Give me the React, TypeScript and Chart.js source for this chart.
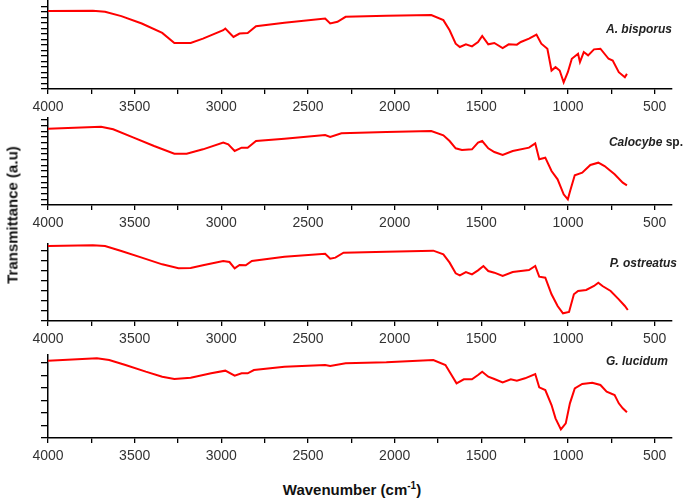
import React, { useEffect, useRef } from "react";
import { Chart, registerables } from "chart.js";

Chart.register(...registerables);

const FONT = "'Liberation Sans', Arial, Helvetica, sans-serif";

// Wavenumber axis ticks (cm-1)
const xTickValues = [4000, 3750, 3500, 3250, 3000, 2750, 2500, 2250, 2000, 1750, 1500, 1250, 1000, 750, 500];
const xLabelValues = [4000, 3500, 3000, 2500, 2000, 1500, 1000, 500];

// A. bisporus
const bisporusWn = [4000, 3741, 3671, 3577, 3459, 3341, 3271, 3177, 3106, 2989, 2977, 2930, 2895, 2848, 2800, 2636, 2401, 2372, 2330, 2283, 2048, 1789, 1719, 1683, 1648, 1624, 1589, 1554, 1519, 1495, 1460, 1425, 1377, 1342, 1295, 1272, 1225, 1182, 1154, 1119, 1095, 1072, 1048, 1025, 1001, 978, 942, 931, 909, 884, 850, 813, 766, 742, 707, 672, 660];
const bisporusT = [232, 233, 230, 217, 195, 167, 137, 137, 150, 175, 180, 155, 165, 167, 187, 197, 210, 195, 200, 215, 218, 220, 205, 175, 135, 125, 133, 127, 140, 158, 133, 137, 122, 133, 132, 140, 150, 162, 135, 120, 55, 65, 55, 20, 50, 90, 105, 80, 110, 100, 118, 120, 90, 85, 50, 35, 45];

// Calocybe sp.
const calocybeWn = [4000, 3694, 3624, 3506, 3388, 3271, 3200, 3106, 2989, 2960, 2923, 2883, 2848, 2800, 2636, 2401, 2372, 2307, 2048, 1789, 1719, 1683, 1648, 1612, 1554, 1519, 1495, 1460, 1425, 1377, 1319, 1225, 1189, 1166, 1131, 1095, 1060, 1025, 1001, 989, 961, 918, 871, 825, 789, 731, 684, 660];
const calocybeT = [229, 235, 227, 202, 177, 154, 154, 167, 187, 182, 162, 172, 172, 192, 199, 210, 204, 215, 219, 222, 209, 192, 170, 165, 167, 187, 192, 170, 159, 150, 162, 172, 185, 137, 142, 102, 77, 32, 17, 40, 89, 97, 120, 127, 117, 92, 67, 59];

// P. ostreatus
const ostreatusWn = [4000, 3741, 3671, 3577, 3459, 3341, 3247, 3177, 3106, 2989, 2953, 2923, 2895, 2859, 2824, 2636, 2401, 2372, 2342, 2295, 2048, 1777, 1719, 1683, 1648, 1624, 1589, 1554, 1519, 1488, 1460, 1425, 1377, 1319, 1272, 1225, 1189, 1166, 1131, 1095, 1060, 1029, 994, 966, 942, 895, 850, 825, 801, 754, 707, 672, 655];
const ostreatusT = [225, 227, 225, 210, 190, 170, 158, 159, 167, 180, 177, 158, 168, 167, 180, 193, 202, 187, 190, 205, 208, 211, 200, 175, 143, 137, 147, 140, 152, 165, 150, 145, 135, 147, 150, 153, 165, 133, 130, 80, 45, 23, 27, 80, 90, 93, 105, 115, 105, 90, 65, 45, 33];

// G. lucidum
const lucidumWn = [4000, 3718, 3647, 3553, 3436, 3341, 3271, 3177, 3059, 2977, 2923, 2883, 2848, 2812, 2636, 2401, 2372, 2283, 2048, 1777, 1707, 1672, 1643, 1601, 1554, 1519, 1495, 1460, 1425, 1377, 1330, 1295, 1248, 1189, 1166, 1131, 1095, 1072, 1041, 1013, 989, 961, 918, 860, 813, 777, 731, 707, 684, 660];
const lucidumT = [232, 239, 234, 219, 199, 184, 177, 181, 194, 202, 187, 194, 194, 204, 214, 219, 216, 224, 227, 234, 219, 189, 164, 176, 176, 189, 199, 184, 177, 167, 176, 172, 179, 192, 152, 144, 99, 59, 26, 44, 104, 149, 162, 166, 159, 139, 129, 104, 89, 77];

type PanelProps = {
  wn: number[];
  t: number[];
  yMax: number;
  yStep: number;
  top: number;
  bottom: number;
};

const PAD_TOP = 4;
const X_AXIS_H = 30;
const Y_AXIS_W = 48;
const RIGHT_PAD = 13;

function Panel({ wn, t, yMax, yStep, top, bottom }: PanelProps) {
  const ref = useRef<HTMLCanvasElement | null>(null);
  const height = bottom - top + PAD_TOP + X_AXIS_H;

  useEffect(() => {
    if (!ref.current) return;
    const axisCommon = {
      grid: { drawOnChartArea: false, drawTicks: true, color: "#000", lineWidth: 1.3 },
      border: { display: true, color: "#000", width: 1.5 },
    };
    const chart = new Chart(ref.current, {
      type: "line",
      data: {
        datasets: [
          {
            data: wn.map((x, i) => ({ x, y: t[i] })),
            borderColor: "#ff0000",
            borderWidth: 2,
            pointRadius: 0,
            tension: 0,
            fill: false,
          },
        ],
      },
      options: {
        animation: false,
        responsive: false,
        maintainAspectRatio: false,
        layout: { padding: { top: PAD_TOP, right: RIGHT_PAD, left: 0, bottom: 0 } },
        plugins: { legend: { display: false }, tooltip: { enabled: false } },
        scales: {
          x: {
            type: "linear",
            reverse: true,
            min: 400,
            max: 4000,
            afterBuildTicks: (s: any) => {
              s.ticks = xTickValues.map((v) => ({ value: v }));
            },
            afterFit: (s: any) => {
              s.height = X_AXIS_H;
            },
            ...axisCommon,
            grid: { ...axisCommon.grid, tickLength: 5 },
            ticks: {
              autoSkip: false,
              maxRotation: 0,
              minRotation: 0,
              padding: 5,
              color: "#333",
              font: { family: FONT, size: 14 },
              callback: (v: any) => (xLabelValues.includes(Number(v)) ? String(v) : ""),
            },
          },
          y: {
            type: "linear",
            min: 0,
            max: yMax,
            afterBuildTicks: (s: any) => {
              const arr: { value: number }[] = [];
              for (let v = 0; v <= yMax + 0.01; v += yStep) arr.push({ value: v });
              s.ticks = arr;
            },
            afterFit: (s: any) => {
              s.width = Y_AXIS_W;
            },
            ...axisCommon,
            grid: { ...axisCommon.grid, tickLength: 7 },
            ticks: { display: false, autoSkip: false },
          },
        },
      },
    } as any);
    return () => chart.destroy();
  }, []);

  return (
    <canvas
      ref={ref}
      width={685}
      height={height}
      style={{ position: "absolute", left: 0, top: top - PAD_TOP, width: 685, height }}
    />
  );
}

const labelStyle: React.CSSProperties = {
  position: "absolute",
  fontFamily: FONT,
  fontSize: 12,
  fontWeight: "bold",
  fontStyle: "italic",
  color: "#222",
  whiteSpace: "nowrap",
  lineHeight: "14px",
};

export default function App() {
  return (
    <div
      style={{
        position: "absolute",
        left: 0,
        top: 0,
        width: 685,
        height: 500,
        background: "#fff",
        overflow: "hidden",
      }}
    >
      <Panel wn={bisporusWn} t={bisporusT} yMax={262} yStep={16.4} top={1} bottom={89} />
      <Panel wn={calocybeWn} t={calocybeT} yMax={261} yStep={17} top={118} bottom={205} />
      <Panel wn={ostreatusWn} t={ostreatusT} yMax={231} yStep={30} top={244} bottom={321} />
      <Panel wn={lucidumWn} t={lucidumT} yMax={249} yStep={37.5} top={355} bottom={438} />

      <div style={{ ...labelStyle, right: 13, top: 22 }}>A. bisporus</div>
      <div style={{ ...labelStyle, right: 2, top: 135 }}>
        Calocybe <span style={{ fontStyle: "normal" }}>sp.</span>
      </div>
      <div style={{ ...labelStyle, right: 8, top: 256 }}>P. ostreatus</div>
      <div style={{ ...labelStyle, right: 17, top: 354 }}>G. lucidum</div>

      <div
        style={{
          position: "absolute",
          left: 12,
          top: 215,
          transform: "translate(-50%, -50%) rotate(-90deg)",
          fontFamily: FONT,
          fontSize: 15,
          fontWeight: "bold",
          color: "#111",
          whiteSpace: "nowrap",
        }}
      >
        Transmittance (a.u)
      </div>
      <div
        style={{
          position: "absolute",
          left: 352,
          top: 489,
          transform: "translate(-50%, -50%)",
          fontFamily: FONT,
          fontSize: 15,
          fontWeight: "bold",
          color: "#111",
          whiteSpace: "nowrap",
        }}
      >
        Wavenumber (cm<sup style={{ fontSize: 10, verticalAlign: "6px", lineHeight: 0 }}>-1</sup>)
      </div>
    </div>
  );
}
